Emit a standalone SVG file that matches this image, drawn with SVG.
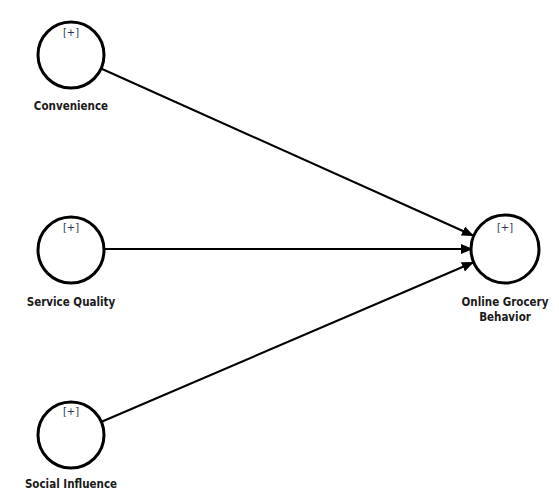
<svg xmlns="http://www.w3.org/2000/svg" width="559" height="496" viewBox="0 0 559 496">
<style>
.n{fill:#fff;stroke:#000;stroke-width:3}
.lbl{font-family:"DejaVu Sans Condensed","DejaVu Sans",sans-serif;font-weight:bold;font-size:11.5px;fill:#1a1a1a;text-anchor:middle}
.pl{font-family:"DejaVu Sans Condensed","DejaVu Sans",sans-serif;font-size:11px;fill:#2a3550;text-anchor:middle}
.c{stroke:#000;stroke-width:2;fill:none;marker-end:url(#ah)}
</style>
<defs>
<marker id="ah" viewBox="0 0 12 10" refX="11" refY="5" markerWidth="12" markerHeight="10" markerUnits="userSpaceOnUse" orient="auto">
<path d="M0,0 L12,5 L0,10 Z" fill="#000"/>
</marker>
</defs>
<rect width="559" height="496" fill="#fff"/>
<g id="connectors">
<line class="c" x1="101" y1="68.5" x2="473" y2="235.5"/>
<line class="c" x1="104" y1="249" x2="472" y2="249"/>
<line class="c" x1="101" y1="422" x2="473" y2="262.5"/>
</g>
<g id="convenience">
<circle class="n" cx="71" cy="55" r="33"/>
<text class="pl" x="71" y="36">[+]</text>
<text class="lbl" x="71" y="110">Convenience</text>
</g>
<g id="service-quality">
<circle class="n" cx="71" cy="250" r="33"/>
<text class="pl" x="71" y="231">[+]</text>
<text class="lbl" x="71" y="306">Service Quality</text>
</g>
<g id="social-influence">
<circle class="n" cx="71" cy="435" r="33"/>
<text class="pl" x="71" y="415">[+]</text>
<text class="lbl" x="71" y="488">Social Influence</text>
</g>
<g id="online-grocery-behavior">
<circle class="n" cx="505" cy="249" r="34"/>
<text class="pl" x="505" y="231">[+]</text>
<text class="lbl" x="505" y="306">Online Grocery</text>
<text class="lbl" x="505" y="321">Behavior</text>
</g>
</svg>
